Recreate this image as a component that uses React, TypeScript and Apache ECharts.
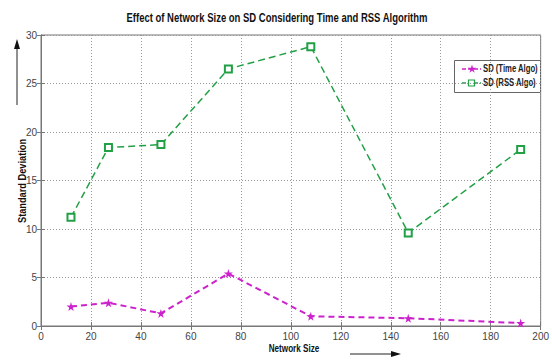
import React, { useEffect, useRef } from "react";
import * as echarts from "echarts";

const networkSize = [12, 27, 48, 75, 108, 147, 192];
const sdTime = [2.0, 2.4, 1.3, 5.4, 1.0, 0.8, 0.3];
const sdRss = [11.2, 18.4, 18.7, 26.5, 28.8, 9.6, 18.2];
const seriesNames = ["SD (Time Algo)", "SD (RSS Algo)"];
const titleText = "Effect of Network Size on SD Considering Time and RSS Algorithm";
const xLabel = "Network Size";
const yLabel = "Standard Deviation";

const FONT = "'Liberation Sans', Arial, sans-serif";
const STAR_D = "M50,0 L61,35 L98,35 L68,57 L79,91 L50,70 L21,91 L32,57 L2,35 L39,35 Z";
const STAR = "path://" + STAR_D;
const MAGENTA = "#cc22cc";
const GREEN = "#22a046";

echarts.graphic.registerShape("star5", echarts.graphic.extendPath(STAR_D, {}) as any);

export default function App() {
  const ref = useRef<HTMLDivElement>(null);
  useEffect(() => {
    if (!ref.current) return;
    const chart = echarts.init(ref.current, undefined, { renderer: "svg" });
    const gridLine = { show: true, lineStyle: { color: "#999", type: [1, 2] as any, width: 1 } };
    const axisCommon = {
      axisLine: { show: true, lineStyle: { color: "#777", width: 1 } },
      axisTick: { show: true, inside: true, length: 4, lineStyle: { color: "#777" } },
    };
    const tickLabel = { fontFamily: FONT, fontSize: 10, color: "#444" };
    const legendText = (text: string, y: number) => ({
      type: "text",
      x: 483,
      y,
      scaleX: 0.77,
      style: { text, align: "left", verticalAlign: "middle", font: "bold 10px " + FONT, fill: "#222" },
    });
    chart.setOption({
      animation: false,
      backgroundColor: "#fff",
      grid: { left: 41, right: 3, top: 35, bottom: 34, show: true, borderColor: "#777", borderWidth: 1 },
      xAxis: [
        {
          type: "value",
          min: 0,
          max: 200,
          interval: 20,
          ...axisCommon,
          splitLine: gridLine,
          axisLabel: { ...tickLabel, margin: 5 },
        },
        {
          type: "value",
          position: "top",
          min: 0,
          max: 200,
          interval: 20,
          ...axisCommon,
          splitLine: { show: false },
          axisLabel: { show: false },
        },
      ],
      yAxis: [
        {
          type: "value",
          min: 0,
          max: 30,
          interval: 5,
          ...axisCommon,
          splitLine: gridLine,
          axisLabel: { ...tickLabel, margin: 4 },
        },
        {
          type: "value",
          position: "right",
          min: 0,
          max: 30,
          interval: 5,
          ...axisCommon,
          splitLine: { show: false },
          axisLabel: { show: false },
        },
      ],
      series: [
        {
          name: seriesNames[0],
          type: "line",
          data: networkSize.map((x, i) => [x, sdTime[i]]),
          symbol: STAR,
          symbolSize: 9,
          lineStyle: { color: MAGENTA, width: 2, type: [6, 4] },
          itemStyle: { color: MAGENTA },
        },
        {
          name: seriesNames[1],
          type: "line",
          data: networkSize.map((x, i) => [x, sdRss[i]]),
          symbol: "emptyRect",
          symbolSize: 7,
          lineStyle: { color: GREEN, width: 1.5, type: [7, 4] },
          itemStyle: { color: GREEN, borderColor: GREEN, borderWidth: 1.2 },
        },
      ],
      graphic: [
        {
          type: "text",
          x: 277,
          y: 17,
          scaleX: 0.73,
          style: { text: titleText, align: "center", verticalAlign: "middle", font: "bold 13px " + FONT, fill: "#111" },
        },
        {
          type: "text",
          x: 294,
          y: 348,
          scaleX: 0.74,
          style: { text: xLabel, align: "center", verticalAlign: "middle", font: "bold 11px " + FONT, fill: "#111" },
        },
        {
          type: "text",
          x: 22.5,
          y: 181,
          rotation: Math.PI / 2,
          scaleX: 0.84,
          style: { text: yLabel, align: "center", verticalAlign: "middle", font: "bold 11px " + FONT, fill: "#111" },
        },
        // legend
        { type: "rect", shape: { x: 454.5, y: 60.5, width: 86, height: 32 }, style: { fill: "#fff", stroke: "#666", lineWidth: 1 } },
        { type: "line", shape: { x1: 462, y1: 69, x2: 481, y2: 69 }, style: { stroke: MAGENTA, lineWidth: 1.5, lineDash: [4, 2] } },
        { type: "star5", x: 467.5, y: 64.5, scaleX: 0.09, scaleY: 0.09, style: { fill: MAGENTA } },
        legendText(seriesNames[0], 69),
        { type: "line", shape: { x1: 462, y1: 83, x2: 481, y2: 83 }, style: { stroke: GREEN, lineWidth: 1.5, lineDash: [4, 2] } },
        { type: "rect", shape: { x: 468.5, y: 80, width: 6, height: 6 }, style: { fill: "#fff", stroke: GREEN, lineWidth: 1.2 } },
        legendText(seriesNames[1], 83),
        // arrows
        { type: "line", shape: { x1: 17, y1: 105, x2: 17, y2: 48 }, style: { stroke: "#222", lineWidth: 1 } },
        { type: "polygon", shape: { points: [[17, 39], [14, 49], [20, 49]] }, style: { fill: "#111" } },
        { type: "line", shape: { x1: 350, y1: 354, x2: 392, y2: 354 }, style: { stroke: "#222", lineWidth: 1 } },
        { type: "polygon", shape: { points: [[401, 354], [391, 351], [391, 357]] }, style: { fill: "#111" } },
      ],
    });
    return () => chart.dispose();
  }, []);
  return <div ref={ref} style={{ position: "fixed", left: 0, top: 0, width: 552, height: 360 }} />;
}
